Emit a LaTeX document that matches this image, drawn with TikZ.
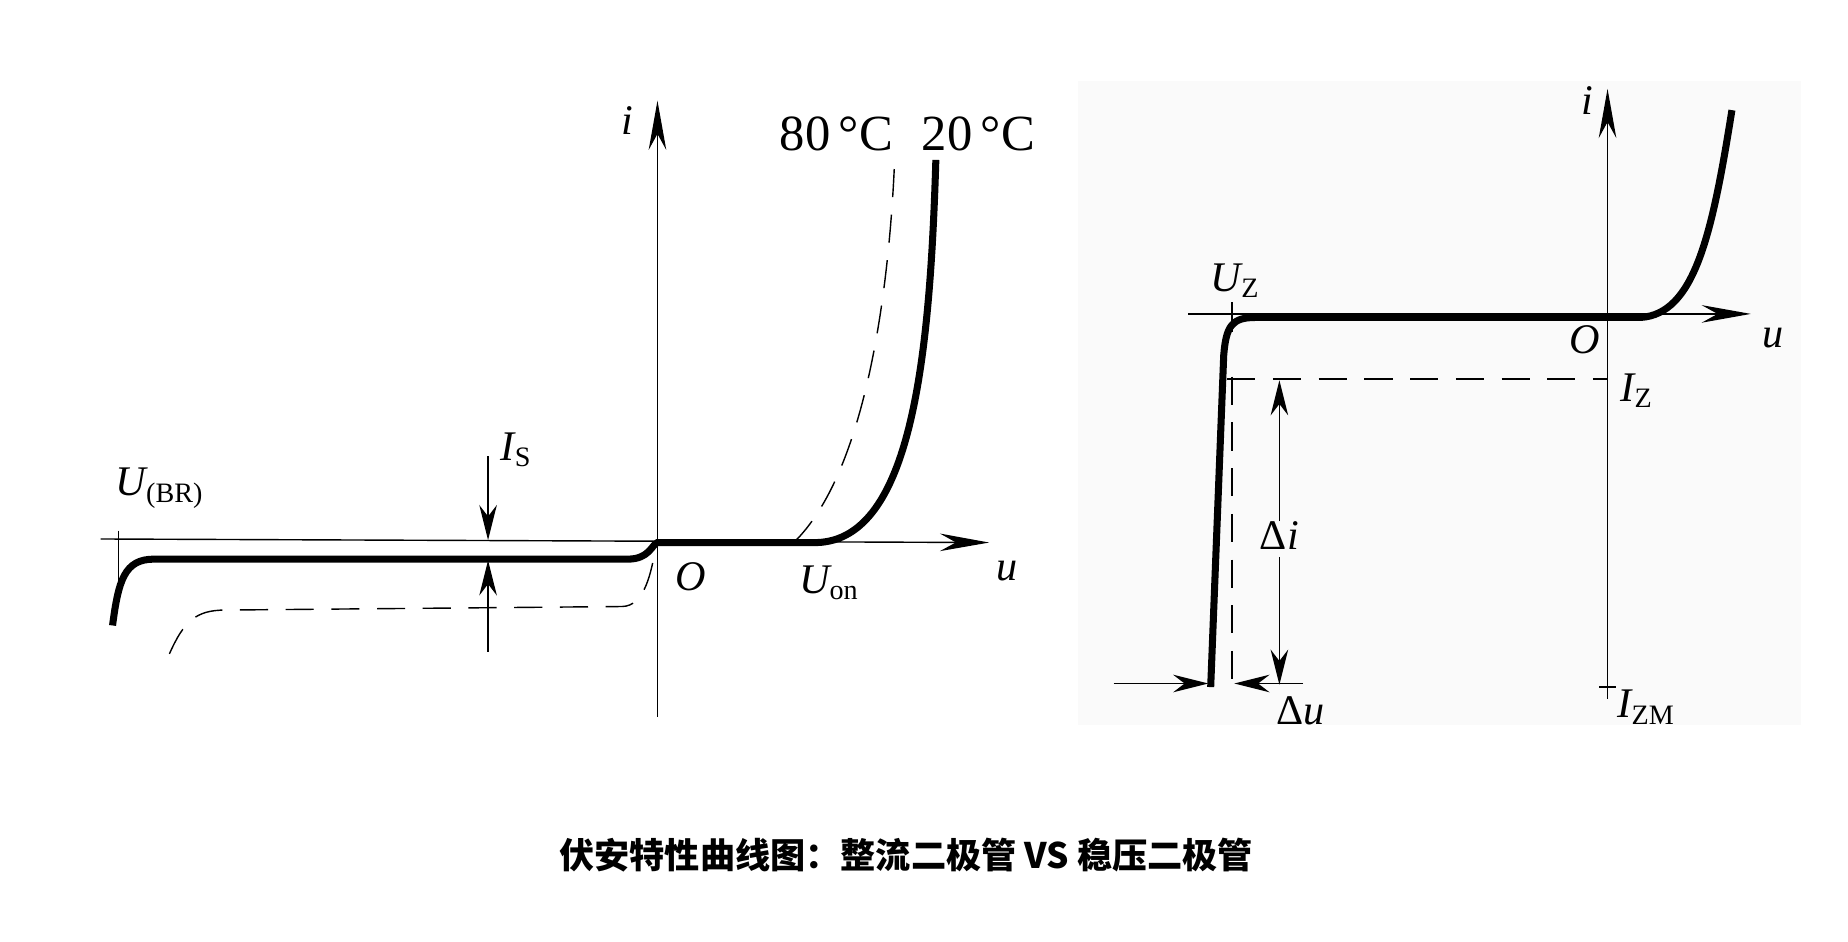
\documentclass[tikz,border=0pt]{standalone}
\usepackage{fontspec}
\setmainfont{Liberation Serif}
\newfontfamily\cjk{Noto Sans CJK SC}
\usetikzlibrary{arrows.meta}
\tikzset{
  axis/.style={thin, -{Stealth[length=14pt,width=5pt]}},
  curve/.style={line width=2pt},
  dcurve/.style={thin, dashed, dash pattern=on 8pt off 5pt},
  lbl/.style={font=\large\itshape, inner sep=1pt},
  dimarrow/.style={thin, -{Stealth[length=10pt,width=5pt]}},
}
\begin{document}
\begin{tikzpicture}[x=0.011846cm, y=-0.011846cm]
\useasboundingbox (0,0) rectangle (1560,795);
% left: rectifier diode
\coordinate (lo) at (555,458);
\draw[axis] (555,605) -- (555,85);
\draw[axis] (85,455) -- (835,458);
\draw[curve] (95,528) .. controls (100,490) and (105,472) .. (130,472) -- (530,472)
  .. controls (548,472) and (550,460) .. (lo) -- (690,458)
  .. controls (770,455) and (785,300) .. (790,135);
\draw[dcurve] (143,552) .. controls (155,525) and (165,515) .. (190,515) -- (525,512)
  .. controls (545,512) and (550,480) .. (553,465);
\draw[dcurve] (670,458) .. controls (730,400) and (750,250) .. (755,140);
\draw[thin] (100,448) -- (100,495);
\draw[dimarrow] (412,385) -- (412,456);
\draw[dimarrow] (412,550) -- (412,473);
\node[lbl] at (530,102) {i};
\node[font=\Large] at (706,113) {80\,°C};
\node[font=\Large] at (826,113) {20\,°C};
\node[lbl] at (436,380) {I\textsubscript{\upshape S}};
\node[lbl] at (135,412) {U\textsubscript{\upshape (BR)}};
\node[lbl] at (583,487) {O};
\node[lbl] at (700,492) {U\textsubscript{\upshape on}};
\node[lbl] at (850,482) {u};
% right: zener diode
\fill[black!2] (910,68) rectangle (1520,612);
\draw[axis] (1357,590) -- (1357,75);
\draw[axis] (1003,265) -- (1478,265);
\draw[curve] (1022,580) -- (1033,300) .. controls (1035,275) and (1040,268) .. (1060,268)
  -- (1385,268) .. controls (1430,265) and (1445,200) .. (1462,93);
\draw[dcurve] (1040,318) -- (1040,580);
\draw[dcurve] (1036,320) -- (1357,320);
\draw[thin] (1040,255) -- (1040,280);
\draw[thin] (1350,580) -- (1364,580);
\draw[dimarrow] (1080,440) -- (1080,321);
\draw[dimarrow] (1080,470) -- (1080,578);
\draw[dimarrow] (940,577) -- (1020,577);
\draw[dimarrow] (1100,577) -- (1042,577);
\node[lbl] at (1340,85) {i};
\node[lbl] at (1043,237) {U\textsubscript{\upshape Z}};
\node[lbl] at (1338,287) {O};
\node[lbl] at (1497,285) {u};
\node[lbl] at (1382,330) {I\textsubscript{\upshape Z}};
\node[lbl] at (1080,452) {\upshape Δ\itshape i};
\node[lbl] at (1098,600) {\upshape Δ\itshape u};
\node[lbl] at (1390,597) {I\textsubscript{\upshape ZM}};
% caption
\node[font=\cjk\bfseries\normalsize] at (765,722) {伏安特性曲线图：整流二极管 VS 稳压二极管};
\end{tikzpicture}
\end{document}
